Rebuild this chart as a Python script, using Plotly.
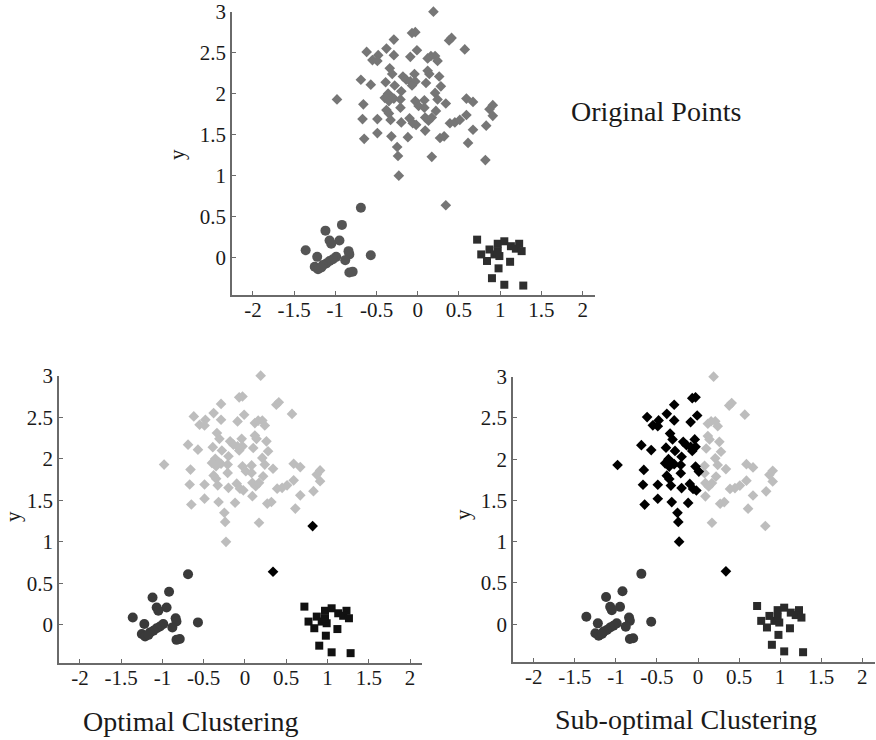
import plotly.graph_objects as go

# ---- data ----
# diamond cluster, left part (black in sub-optimal clustering)
left_x = [-0.26, -0.07, -0.03, -0.29, -0.38, -0.62, -0.55, -0.48, -0.49, -0.29, -0.09, -0.01,
          -0.34, -0.31, -0.69, -0.57, -0.39, -0.28, -0.18, -0.14, -0.09, -0.04, -0.03, -0.07,
          -0.20, -0.36, -0.32, -0.40, -0.35, -0.29, -0.21, -0.98, -0.66, -0.03, 0.01, -0.21,
          -0.38, -0.35, -0.67, -0.49, -0.33, -0.20, -0.10, -0.06, -0.02, -0.65, -0.49, -0.32,
          -0.12, -0.25, -0.24, -0.23]
left_y = [3.01, 2.74, 2.75, 2.66, 2.55, 2.51, 2.41, 2.47, 2.40, 2.47, 2.45, 2.53,
          2.31, 2.24, 2.17, 2.11, 2.14, 2.10, 2.21, 2.17, 2.15, 2.24, 2.15, 2.10,
          2.03, 2.00, 1.96, 1.95, 1.91, 1.94, 1.93, 1.93, 1.87, 1.91, 1.85, 1.83,
          1.80, 1.76, 1.69, 1.69, 1.68, 1.65, 1.70, 1.64, 1.62, 1.45, 1.52, 1.48,
          1.47, 1.35, 1.24, 1.00]
# diamond cluster, right part (light grey in sub-optimal clustering)
right_x = [0.19, 0.38, 0.41, 0.57, 0.12, 0.16, 0.21, 0.24, 0.12, 0.14, 0.26, 0.10, 0.28,
           0.21, 0.08, 0.24, 0.34, 0.59, 0.67, 0.91, 0.87, 0.08, 0.22, 0.09, 0.13, 0.17,
           0.39, 0.45, 0.51, 0.59, 0.91, 0.83, 0.67, 0.09, 0.27, 0.32, 0.61, 0.17]
right_y = [3.00, 2.65, 2.68, 2.54, 2.43, 2.46, 2.46, 2.40, 2.28, 2.24, 2.21, 2.13, 2.09,
           2.01, 1.92, 1.93, 1.88, 1.94, 1.90, 1.86, 1.81, 1.83, 1.79, 1.71, 1.67, 1.71,
           1.64, 1.65, 1.68, 1.74, 1.73, 1.61, 1.56, 1.55, 1.46, 1.48, 1.40, 1.23]
# two outlying diamonds (black in optimal clustering)
out_x = [0.82, 0.34]
out_y = [1.19, 0.64]
# circles cluster
circ_x = [-0.69, -0.92, -1.12, -1.07, -0.95, -1.05, -1.36, -0.84, -1.22, -0.57, -0.99, -1.03,
          -1.07, -1.11, -1.15, -0.83, -0.88, -1.25, -1.21, -1.17, -0.83, -0.79, -1.00]
circ_y = [0.61, 0.40, 0.33, 0.21, 0.21, 0.17, 0.09, 0.08, 0.01, 0.03, 0.01, -0.02,
          -0.04, -0.07, -0.09, 0.04, -0.03, -0.11, -0.14, -0.12, -0.18, -0.17, -0.46]
# squares cluster
sq_x = [0.72, 0.97, 1.05, 1.23, 1.13, 1.19, 1.26, 0.87, 0.77, 0.93, 0.99, 0.97, 0.84,
        1.12, 0.98, 0.90, 1.05, 1.28]
sq_y = [0.22, 0.17, 0.20, 0.17, 0.14, 0.11, 0.08, 0.10, 0.04, 0.04, 0.02, 0.08, -0.04,
        -0.05, -0.13, -0.25, -0.33, -0.34]

x_ticks = [-2, -1.5, -1, -0.5, 0, 0.5, 1, 1.5, 2]
x_tick_text = ["-2", "-1.5", "-1", "-0.5", "0", "0.5", "1", "1.5", "2"]
y_ticks = [0, 0.5, 1, 1.5, 2, 2.5, 3]
y_tick_text = ["0", "0.5", "1", "1.5", "2", "2.5", "3"]

# the page body margin is removed by a post script, so the figure fills the window
W, H = 876, 740
FONT = "Liberation Serif"

fig = go.Figure()


def pdx(px):
    return px / W


def pdy(py):
    return 1 - py / H


panels = [
    # (x axis name, y axis name, left px, right px, top px, bottom px) in window pixels
    ("x", "y", 232.3, 595.0, 11.7, 295.0),
    ("x2", "y2", 59.3, 422.4, 375.7, 662.7),
    ("x3", "y3", 513.3, 874.5, 376.7, 661.7),
]


def add(xs, ys, sym, size, color, ax):
    fig.add_trace(go.Scatter(
        x=xs, y=ys, mode="markers", xaxis=ax[0], yaxis=ax[1],
        cliponaxis=False, showlegend=False, hoverinfo="skip",
        marker=dict(symbol=sym, size=size, color=color, line=dict(width=0)),
    ))


DS, CS, SS = 8.2, 10, 8

# top: original points
ax = ("x", "y")
add(left_x + right_x + out_x, left_y + right_y + out_y, "diamond", DS, "#767676", ax)
add(circ_x, circ_y, "circle", CS, "#555555", ax)
add(sq_x, sq_y, "square", SS, "#2e2e2e", ax)

# bottom-left: optimal clustering
ax = ("x2", "y2")
add(left_x + right_x, left_y + right_y, "diamond", DS, "#bdbdbd", ax)
add(out_x, out_y, "diamond", DS, "#000000", ax)
add(circ_x, circ_y, "circle", CS, "#3a3a3a", ax)
add(sq_x, sq_y, "square", SS, "#111111", ax)

# bottom-right: sub-optimal clustering
ax = ("x3", "y3")
add(right_x + out_x[:1], right_y + out_y[:1], "diamond", DS, "#bdbdbd", ax)
add(left_x + out_x[1:], left_y + out_y[1:], "diamond", DS, "#000000", ax)
add(circ_x, circ_y, "circle", CS, "#3a3a3a", ax)
add(sq_x, sq_y, "square", SS, "#2a2a2a", ax)

common_axis = dict(
    showline=True, linecolor="#6a6a6a", linewidth=2, mirror=False,
    showgrid=False, zeroline=False, ticks="inside", ticklen=4, tickwidth=1,
    tickcolor="#6a6a6a", tickfont=dict(family=FONT, size=21, color="#1a1a1a"),
    fixedrange=True, automargin=False, ticklabeloverflow="allow",
)

layout = dict(
    width=W, height=H, margin=dict(l=0, r=0, t=0, b=0, pad=0, autoexpand=False),
    paper_bgcolor="white", plot_bgcolor="white",
    font=dict(family=FONT, color="#1a1a1a"),
)
for xa, ya, l, r, t, b in panels:
    kx = "xaxis" + xa[1:]
    ky = "yaxis" + ya[1:]
    layout[kx] = dict(common_axis, domain=[pdx(l), min(1.0, pdx(r))], range=[-2.25, 2.15],
                      tickvals=x_ticks, ticktext=x_tick_text, anchor=ya,
                      ticklabelstandoff=-5)
    layout[ky] = dict(common_axis, domain=[pdy(b), pdy(t)], range=[-0.455, 3.0],
                      tickvals=y_ticks, ticktext=y_tick_text, anchor=xa)

fig.update_layout(**layout)

ann = [
    ("Original Points", 656, 111, 28, 0),
    ("Optimal Clustering", 190, 721, 28, 0),
    ("Sub-optimal Clustering", 686, 719, 28, 0),
    ("y", 177, 155, 21, -90),
    ("y", 13, 517, 21, -90),
    ("y", 463, 515, 21, -90),
]
for text, px, py, size, ang in ann:
    fig.add_annotation(
        text=text, x=pdx(px), y=pdy(py), xref="paper", yref="paper",
        showarrow=False, xanchor="center", yanchor="middle", textangle=ang,
        font=dict(family=FONT, size=size, color="#1a1a1a"),
    )

fig.write_html(
    "out.html",
    config={"displayModeBar": False, "staticPlot": True},
    post_script="document.body.style.margin='0';document.body.style.overflow='hidden';",
)
